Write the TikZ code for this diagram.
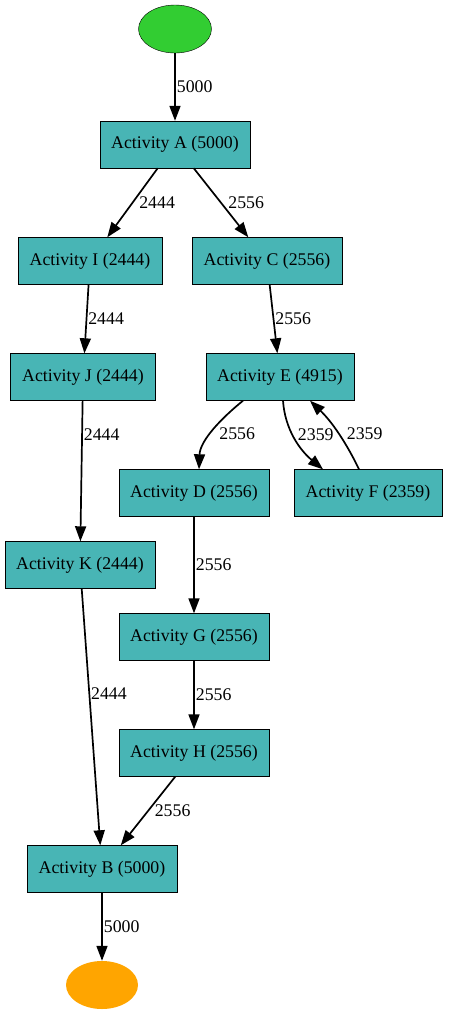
\documentclass[tikz,border=0pt]{standalone}
\usepackage{fontspec}
\setmainfont{Liberation Serif}
\usetikzlibrary{arrows.meta,shapes.geometric}
\definecolor{actfill}{RGB}{72,181,181}
\definecolor{startgreen}{RGB}{50,205,50}
\definecolor{endorange}{RGB}{255,165,0}
\begin{document}
\begin{tikzpicture}[x=1pt,y=-1pt,
	  act/.style={draw,fill=actfill,minimum height=47pt,inner xsep=11.5pt,font=\fontsize{17.8}{20}\selectfont},
	  arc/.style={-{Triangle[length=15pt,width=11pt]},line width=1.7pt},
	  lbl/.style={anchor=west,inner sep=0pt,font=\fontsize{17.8}{20}\selectfont}]
	  \useasboundingbox (0,0) rectangle (449,1015);

	  \node[draw,ellipse,fill=startgreen,minimum width=73pt,minimum height=48pt,inner sep=0pt] (start) at (175,29) {};
	  \node[act] (a) at (175,144.5) {Activity A (5000)};
	  \node[act] (i) at (90,261) {Activity I (2444)};
	  \node[act] (c) at (267,261) {Activity C (2556)};
	  \node[act] (j) at (83,377) {Activity J (2444)};
	  \node[act] (e) at (280,377) {Activity E (4915)};
	  \node[act] (d) at (194,493) {Activity D (2556)};
	  \node[act] (f) at (368,493) {Activity F (2359)};
	  \node[act] (k) at (80,565) {Activity K (2444)};
	  \node[act] (g) at (194,637) {Activity G (2556)};
	  \node[act] (h) at (194,753) {Activity H (2556)};
	  \node[act] (b) at (102,869) {Activity B (5000)};
	  \node[ellipse,fill=endorange,minimum width=72pt,minimum height=48pt,inner sep=0pt] (stop) at (102,985) {};

	  \draw[arc] (start) -- node[lbl,xshift=1pt] {5000} (a);
	  \draw[arc] (a) -- node[lbl,xshift=6pt] {2444} (i);
	  \draw[arc] (a) -- node[lbl,xshift=6.5pt] {2556} (c);
	  \draw[arc] (i) -- node[lbl,xshift=1pt] {2444} (j);
	  \draw[arc] (c) -- node[lbl,xshift=1pt] {2556} (e);
	  \draw[arc] (j) -- node[lbl,pos=0.24,xshift=1pt] {2444} (k);
	  \draw[arc] ([xshift=-37pt]e.south) .. controls +(-21,17) and +(1,-29) .. node[lbl,xshift=5pt,yshift=-3pt] {2556} ([xshift=5pt]d.north);
	  \draw[arc] ([xshift=3pt]e.south) .. controls +(2,29) and +(-23,-19) .. node[lbl,xshift=2pt,yshift=4.5pt] {2359} ([xshift=-45pt]f.north);
	  \draw[arc] ([xshift=-9pt]f.north) .. controls +(-9,-19) and +(25,24) .. node[lbl,xshift=5.5pt,yshift=3pt] {2359} ([xshift=30pt]e.south);
	  \draw[arc] (d) -- node[lbl,xshift=1pt] {2556} (g);
	  \draw[arc] (k) -- node[lbl,pos=0.41,xshift=1pt] {2444} (b);
	  \draw[arc] (g) -- node[lbl,xshift=1pt] {2556} (h);
	  \draw[arc] (h) -- node[lbl,xshift=6pt] {2556} (b);
	  \draw[arc] (b) -- node[lbl,xshift=1pt] {5000} (stop);
	\end{tikzpicture}
\end{document}
